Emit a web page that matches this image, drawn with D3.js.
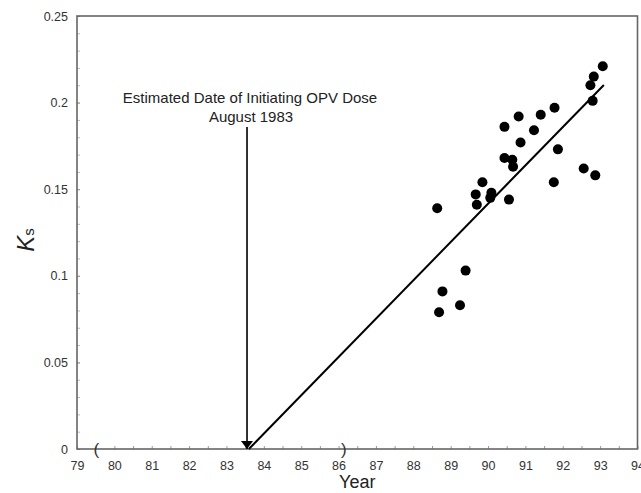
<!DOCTYPE html>
<html>
<head>
  <meta charset="utf-8">
  <title>Ks by year</title>
  <script type="text/javascript" src="https://cdn.jsdelivr.net/npm/d3@7/dist/d3.min.js"></script>
  <style>
    body { margin: 0; background: #fff; }
    svg { font-family: "Liberation Sans", Arial, sans-serif; }
  </style>
</head>
<body>
<div id="chart"></div>

<script type="text/javascript">
  // observed points
  var years = [88.64, 88.69, 88.78, 89.25, 89.40, 89.67, 89.70, 89.85, 90.09, 90.06,
               90.56, 90.44, 90.65, 90.67, 90.87, 90.44, 90.82, 91.23, 91.41, 91.78,
               91.87, 91.76, 92.56, 92.87, 92.80, 92.74, 92.83, 93.07];
  var ksValues = [0.139, 0.079, 0.091, 0.083, 0.103, 0.147, 0.141, 0.154, 0.148, 0.145,
                  0.144, 0.168, 0.167, 0.163, 0.177, 0.186, 0.192, 0.184, 0.193, 0.197,
                  0.173, 0.154, 0.162, 0.158, 0.201, 0.210, 0.215, 0.221];
  // fitted line ends and the interval on the x intercept
  var fitYears = [83.6, 93.1];
  var fitKs = [0, 0.2102];
  var ciYears = [79.52, 86.14];
  var doseYear = 83.55;
  var xTicks = d3.range(79, 95, 1);
  var yTicks = [0, 0.05, 0.1, 0.15, 0.2, 0.25];

  var w = 641, h = 493;
  var plotL = 77, plotR = 637.5, plotT = 16, plotB = 449;

  var svg = d3.select('#chart').append('svg')
      .attr('width', w)
      .attr('height', h);

  var x = d3.scaleLinear().domain([79, 94]).range([plotL, plotR]);
  var y = d3.scaleLinear().domain([0, 0.25]).range([plotB, plotT]);

  // minor ticks
  svg.append('g')
      .attr('transform', 'translate(0,' + plotB + ')')
      .call(d3.axisBottom(x).tickValues(d3.range(79.5, 94, 1)).tickSize(-3).tickFormat(''))
      .call(function(g){ g.select('.domain').remove(); })
      .selectAll('line').attr('stroke', '#999');
  svg.append('g')
      .attr('transform', 'translate(' + plotL + ',0)')
      .call(d3.axisLeft(y).tickValues(d3.range(0.01, 0.25, 0.01)).tickSize(-3).tickFormat(''))
      .call(function(g){ g.select('.domain').remove(); })
      .selectAll('line').attr('stroke', '#bbb');

  // x axis
  var xAxis = svg.append('g')
      .attr('transform', 'translate(0,' + plotB + ')')
      .call(d3.axisBottom(x).tickValues(xTicks).tickSize(-3).tickPadding(12)
        .tickFormat(function(d){ return d; }));
  xAxis.select('.domain').remove();
  xAxis.selectAll('line').attr('stroke', '#999');
  xAxis.selectAll('text').attr('font-size', '12.5px').attr('fill', '#333')
      .attr('font-family', '"Liberation Sans", Arial, sans-serif');

  // y axis
  var yAxis = svg.append('g')
      .attr('transform', 'translate(' + plotL + ',0)')
      .call(d3.axisLeft(y).tickValues(yTicks).tickSize(-3).tickPadding(9)
        .tickFormat(function(d){ return d; }));
  yAxis.select('.domain').remove();
  yAxis.selectAll('line').attr('stroke', '#999');
  yAxis.selectAll('text').attr('font-size', '12.5px').attr('fill', '#333')
      .attr('font-family', '"Liberation Sans", Arial, sans-serif');

  // frame
  svg.append('rect')
      .attr('x', plotL).attr('y', plotT)
      .attr('width', plotR - plotL).attr('height', plotB - plotT)
      .attr('fill', 'none')
      .attr('stroke', '#666')
      .attr('stroke-width', 1.6);

  // interval brackets on the axis
  svg.selectAll('text.ci')
      .data(ciYears)
      .enter()
      .append('text')
      .attr('class', 'ci')
      .attr('x', function(d){ return x(d); })
      .attr('y', plotB + 6)
      .attr('text-anchor', 'middle')
      .attr('font-size', '17px')
      .attr('fill', '#333')
      .text(function(d, i){ return i === 0 ? '(' : ')'; });

  // fitted line
  var line = d3.line()
      .x(function(d){ return x(d[0]); })
      .y(function(d){ return y(d[1]); });
  svg.append('path')
      .datum(d3.zip(fitYears, fitKs))
      .attr('d', line)
      .attr('fill', 'none')
      .attr('stroke', '#000')
      .attr('stroke-width', 2);

  // points
  svg.selectAll('circle')
      .data(d3.zip(years, ksValues))
      .enter()
      .append('circle')
      .attr('cx', function(d){ return x(d[0]); })
      .attr('cy', function(d){ return y(d[1]); })
      .attr('r', 5)
      .attr('fill', '#000');

  // arrow for dose date
  svg.append('defs').append('marker')
      .attr('id', 'head')
      .attr('viewBox', '0 0 10 10')
      .attr('refX', 10).attr('refY', 5)
      .attr('markerWidth', 8).attr('markerHeight', 12)
      .attr('markerUnits', 'userSpaceOnUse')
      .attr('orient', 'auto')
      .attr('preserveAspectRatio', 'none')
      .append('path')
      .attr('d', 'M0,0 L10,5 L0,10 Z')
      .attr('fill', '#000');
  svg.append('line')
      .attr('x1', x(doseYear)).attr('x2', x(doseYear))
      .attr('y1', 127).attr('y2', y(0))
      .attr('stroke', '#000')
      .attr('stroke-width', 1.6)
      .attr('marker-end', 'url(#head)');

  var note = svg.append('text')
      .attr('y', 103)
      .attr('text-anchor', 'middle')
      .attr('font-size', '15px')
      .attr('fill', '#222');
  note.append('tspan').attr('x', x(doseYear) + 3).text('Estimated Date of Initiating OPV Dose');
  note.append('tspan').attr('x', x(doseYear) + 4).attr('dy', 19).text('August 1983');

  // axis titles
  svg.append('text')
      .attr('x', (plotL + plotR) / 2)
      .attr('y', 488)
      .attr('text-anchor', 'middle')
      .attr('font-size', '18px')
      .attr('fill', '#222')
      .text('Year');

  var ks = svg.append('text')
      .attr('transform', 'translate(34,240) rotate(-90)')
      .attr('text-anchor', 'middle')
      .attr('fill', '#222');
  ks.append('tspan').attr('font-size', '24px').attr('font-style', 'italic').text('K');
  ks.append('tspan').attr('font-size', '15px').text('s');
</script>

</body>
</html>
